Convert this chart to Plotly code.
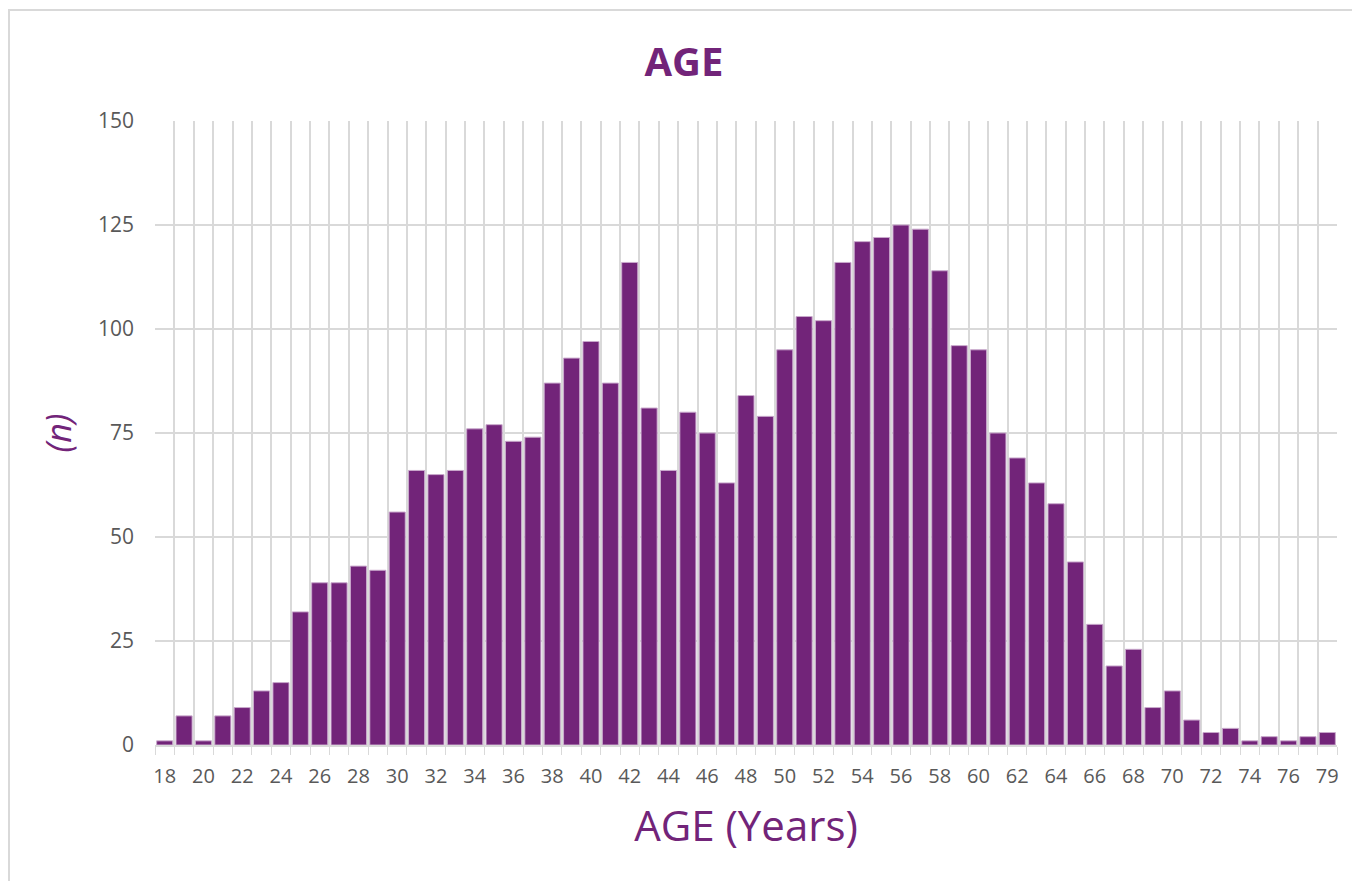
import plotly.graph_objects as go

# ages shown on the chart (no 78 in the source data)
ages = [str(a) for a in range(18, 78)] + ["79"]
counts = [1, 7, 1, 7, 9, 13, 15, 32, 39, 39,
          43, 42, 56, 66, 65, 66, 76, 77, 73, 74,
          87, 93, 97, 87, 116, 81, 66, 80, 75, 63,
          84, 79, 95, 103, 102, 116, 121, 122, 125, 124,
          114, 96, 95, 75, 69, 63, 58, 44, 29, 19,
          23, 9, 13, 6, 3, 4, 1, 2, 1, 2,
          3]
# every other category gets a label
tick_text = [a if i % 2 == 0 else "" for i, a in enumerate(ages)]
y_ticks = [0, 25, 50, 75, 100, 125, 150]

purple = "#722479"
font_family = "Open Sans"

fig = go.Figure()
fig.add_bar(x=ages, y=counts,
            marker=dict(color=purple, line=dict(color="#c9a8cc", width=1)))

# the page body has an 8px margin, so the figure is a bit smaller than the window
fig.update_layout(
    width=1352, height=873,
    margin=dict(l=147, r=23, t=113, b=136),
    paper_bgcolor="white", plot_bgcolor="white",
    bargap=0.17,
    showlegend=False,
    font=dict(family=font_family, color="#595959", size=21),
    title=dict(text="<b>AGE</b>", x=0.5, xanchor="center", y=0.9385, yanchor="middle",
               font=dict(size=40, color=purple, family=font_family)),
    xaxis=dict(type="category", tickmode="array", tickvals=ages, ticktext=tick_text,
               tickangle=0, tickson="boundaries", ticks="outside", ticklen=8,
               tickcolor="#d9d9d9", ticklabelstandoff=12,
               showgrid=True, gridcolor="#d9d9d9", gridwidth=2,
               showline=True, linecolor="#d9d9d9", linewidth=2,
               tickfont=dict(size=20, color="#595959"),
               title=dict(text="AGE (Years)", font=dict(size=42, color=purple), standoff=24)),
    yaxis=dict(range=[0, 150], tickvals=y_ticks, showgrid=True, gridcolor="#d9d9d9",
               gridwidth=2, zeroline=False, showline=False, ticks="",
               tickfont=dict(size=21, color="#595959"), ticklabelstandoff=20,
               title=dict(text="<i>(n)</i>", font=dict(size=34, color=purple), standoff=16)),
)

# frame around the chart area (only top and left edges are visible in the image)
fig.add_shape(type="rect", xref="paper", yref="paper",
              x0=-0.1235, x1=1.03, y0=-0.25, y1=1.178,
              line=dict(color="#d9d9d9", width=2), layer="below")

fig.write_html("out.html")
